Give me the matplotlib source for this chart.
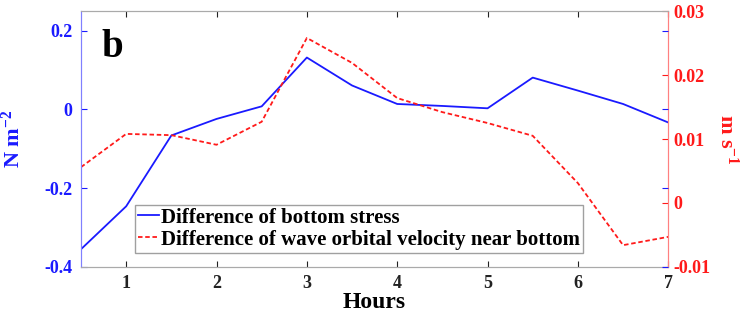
import matplotlib
matplotlib.use("Agg")
import matplotlib.pyplot as plt

plt.rcParams['font.family'] = ['Liberation Serif', 'DejaVu Serif']
plt.rcParams['font.weight'] = 'bold'
plt.rcParams['mathtext.fontset'] = 'custom'
plt.rcParams['mathtext.rm'] = 'Liberation Serif:weight=bold'
plt.rcParams['mathtext.bf'] = 'Liberation Serif:weight=bold'
plt.rcParams['mathtext.default'] = 'bf'

hours = [0.5, 1, 1.5, 2, 2.5, 3, 3.5, 4, 4.5, 5, 5.5, 6, 6.5, 7]
stress = [-0.355, -0.246, -0.066, -0.024, 0.008, 0.132, 0.061, 0.014,
          0.009, 0.003, 0.081, 0.048, 0.014, -0.033]
velocity = [0.0056, 0.0108, 0.0106, 0.0091, 0.0127, 0.0258, 0.0219, 0.0164,
            0.0142, 0.0125, 0.0105, 0.0031, -0.0066, -0.0053]

blue = '#1a1aff'
red = '#ff1a1a'

fig = plt.figure(figsize=(7.5, 3.17), dpi=100)
ax = fig.add_axes([0.108, 0.158, 0.783, 0.807])
ax2 = ax.twinx()

l1, = ax.plot(hours, stress, color=blue, lw=1.3, label='Difference of bottom stress')
l2, = ax2.plot(hours, velocity, color=red, lw=1.3, ls=(0, (2.5, 1.5)),
               label='Difference of wave orbital velocity near bottom')

ax.set_xlim(0.5, 7)
ax.set_ylim(-0.4, 0.25)
ax.set_yticks([-0.4, -0.2, 0, 0.2])
ax.set_yticklabels(['-0.4', '-0.2', '0', '0.2'])
ax.set_xticks([1, 2, 3, 4, 5, 6, 7])
ax2.set_ylim(-0.01, 0.03)
ax2.set_yticks([-0.01, 0, 0.01, 0.02, 0.03])
ax2.set_yticklabels(['-0.01', '0', '0.01', '0.02', '0.03'])

ax.tick_params(axis='x', direction='in', top=True, length=4, labelsize=13,
               colors='#222222', pad=6)
ax.tick_params(axis='y', direction='in', right=False, length=4, labelsize=13,
               colors=blue, pad=6)
ax2.tick_params(axis='y', direction='in', length=4, labelsize=13, colors=red, pad=4)
# left axis ticks mirrored on right side in blue
ax3 = ax.twinx()
ax3.set_ylim(ax.get_ylim())
ax3.set_yticks([-0.4, -0.2, 0, 0.2])
ax3.tick_params(axis='y', direction='in', length=4, colors=blue, labelright=False)
for s in ax3.spines.values():
    s.set_visible(False)

for a in (ax, ax2):
    a.spines['left'].set_color('#8080ff')
    a.spines['right'].set_color('#ff8080')
    a.spines['top'].set_color('#aaaaaa')
    a.spines['bottom'].set_color('#aaaaaa')

ax.set_xlabel('Hours', fontsize=17, fontweight='bold', labelpad=0)
ax.set_ylabel(r'N m$^{\mathbf{-2}}$', fontsize=16, fontweight='bold',
              color=blue, labelpad=14)
ax2.set_ylabel(r'm s$^{\mathbf{-1}}$', fontsize=16, fontweight='bold',
               color=red, rotation=-90, labelpad=20)

ax.text(0.035, 0.93, 'b', transform=ax.transAxes, fontsize=28,
        fontweight='bold', va='top', ha='left')

leg = ax.legend(handles=[l1, l2], loc='lower left', bbox_to_anchor=(0.092, 0.055),
                prop={'size': 15, 'weight': 'bold'}, frameon=True, fancybox=False,
                edgecolor='#888888', borderpad=0.15, handlelength=1.0,
                handletextpad=0.1, labelspacing=0.1, borderaxespad=0)
leg.get_frame().set_linewidth(1.0)

fig.savefig('out.png', dpi=100)
